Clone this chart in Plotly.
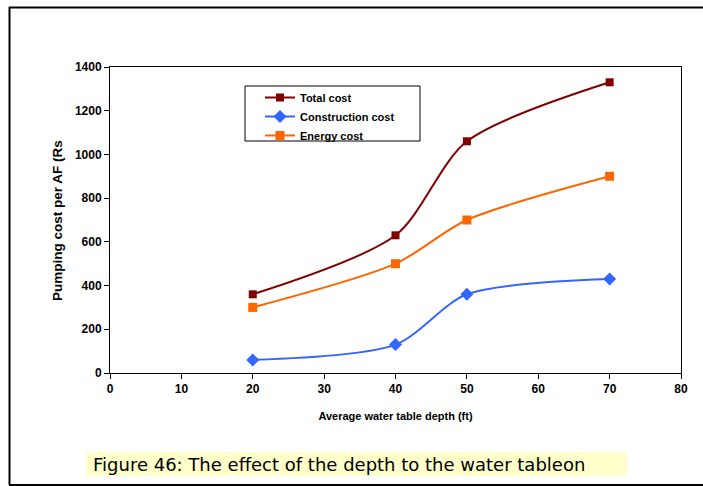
import plotly.graph_objects as go

depth = [20, 40, 50, 70]
total_cost = [360, 630, 1060, 1330]
construction_cost = [60, 130, 360, 430]
energy_cost = [300, 500, 700, 900]

x_ticks = [0, 10, 20, 30, 40, 50, 60, 70, 80]
y_ticks = [0, 200, 400, 600, 800, 1000, 1200, 1400]

W, H = 703, 486
L, R, T, B = 110, 681, 67, 373  # plot area in screen pixels

def px(x):
    return (x - L) / (R - L)

def py(y):
    return (B - y) / (B - T)

fig = go.Figure()
fig.add_trace(go.Scatter(x=depth, y=total_cost, name="<b>Total cost</b>", mode="lines+markers",
                         line=dict(color="#800000", width=2, shape="spline", smoothing=0.8),
                         marker=dict(symbol="square", size=8, color="#800000")))
fig.add_trace(go.Scatter(x=depth, y=construction_cost, name="<b>Construction cost</b>", mode="lines+markers",
                         line=dict(color="#3366FF", width=2, shape="spline", smoothing=0.8),
                         marker=dict(symbol="diamond", size=10, color="#3366FF")))
fig.add_trace(go.Scatter(x=depth, y=energy_cost, name="<b>Energy cost</b>", mode="lines+markers",
                         line=dict(color="#FF6600", width=2, shape="spline", smoothing=0.8),
                         marker=dict(symbol="square", size=9, color="#FF6600")))

FAM = "Liberation Sans, Arial, sans-serif"
bold = dict(family=FAM, size=12, color="black")

fig.update_layout(
    width=W, height=H,
    margin=dict(l=L, r=W - R, t=T, b=H - B, autoexpand=False),
    paper_bgcolor="white", plot_bgcolor="white",
    font=dict(family=FAM, color="black"),
    xaxis=dict(range=[0, 80], tickvals=x_ticks, ticktext=[f"<b>{v}</b>" for v in x_ticks],
               showgrid=False, zeroline=False, showline=True, linecolor="black", linewidth=1,
               mirror=True, ticks="outside", ticklen=5, tickcolor="black", tickfont=bold,
               title=dict(text="<b>Average water table depth (ft)</b>",
                          font=dict(family=FAM, size=11), standoff=16)),
    yaxis=dict(range=[0, 1400], tickvals=y_ticks, ticktext=[f"<b>{v}</b>" for v in y_ticks],
               showgrid=False, zeroline=False, showline=True, linecolor="black", linewidth=1,
               mirror=True, ticks="outside", ticklen=5, tickcolor="black", tickfont=bold),
    legend=dict(x=px(260), y=py(83), xanchor="left", yanchor="top",
                bgcolor="rgba(0,0,0,0)", borderwidth=0,
                font=dict(family=FAM, size=11),
                itemwidth=30, tracegroupgap=0),
    showlegend=True,
)

# Legend frame (wider than plotly's own, as in the reference)
fig.add_shape(type="rect", xref="paper", yref="paper", x0=px(245), x1=px(420), y0=py(141), y1=py(86),
              line=dict(color="black", width=1), fillcolor="white", layer="below")

# Y axis title (clipped as in the reference)
fig.add_annotation(xref="paper", yref="paper", x=px(57), y=py(221), text="<b>Pumping cost per AF (Rs</b>",
                   textangle=-90, showarrow=False, font=dict(family=FAM, size=13.5),
                   xanchor="center", yanchor="middle")

# Outer frame: left, top, bottom edges (right edge is off-page in the reference)
frame = [((9.5, 7), (9.5, 485)), ((9, 7.5), (710, 7.5)), ((9, 485), (710, 485))]
for (xa, ya), (xb, yb) in frame:
    fig.add_shape(type="line", xref="paper", yref="paper", x0=px(xa), y0=py(ya), x1=px(xb), y1=py(yb),
                  line=dict(color="black", width=2), layer="below")

# Caption box
fig.add_shape(type="rect", xref="paper", yref="paper", x0=px(86), x1=px(627), y0=py(476), y1=py(452),
              line=dict(width=0), fillcolor="#FFFFCC", layer="below")
fig.add_annotation(xref="paper", yref="paper", x=px(91), y=py(464),
                   text="Figure 46: The effect of the depth to the water tableon",
                   showarrow=False, xanchor="left", yanchor="middle",
                   font=dict(family="DejaVu Sans, sans-serif", size=18, color="black"))

fig.write_html("out.html", config={"displayModeBar": False},
               post_script="document.body.style.margin='0';document.body.style.overflow='hidden';")
